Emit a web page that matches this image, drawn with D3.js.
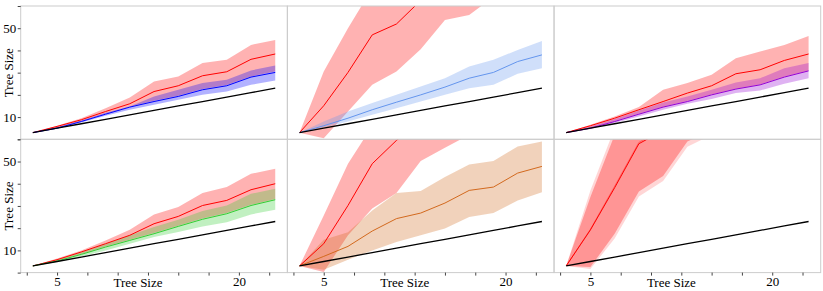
<!DOCTYPE html>
<html>
<head>
<meta charset="utf-8">
<script src="https://cdnjs.cloudflare.com/ajax/libs/d3/7.8.5/d3.min.js"></script>
<style>
body { margin: 0; background: #fff; }
svg text { font-family: "Liberation Serif", "DejaVu Serif", serif; }
</style>
</head>
<body>
<svg id="chart" width="823" height="291"></svg>
<script>
// tree sizes on the x axis (same for every panel)
var sizes = [3, 5, 7, 9, 11, 13, 15, 17, 19, 21, 23];
var identity = [3, 5, 7, 9, 11, 13, 15, 17, 19, 21, 23];

var xTicks = [2.5, 5, 7.5, 10, 12.5, 15, 17.5, 20, 22.5];
var xTickLabels = [5, 20];
var yTicks = [0, 10, 20, 30, 40, 50, 60];
var yTickLabels = [10, 50];

// panel 1 (top left) : red vs blue
var redMean1 = [3, 5.8, 8.8, 12.5, 16.0, 21.5, 24.1, 28.6, 30.4, 36.0, 38.4];
var redHi1   = [3, 6.1, 9.5, 14.0, 18.8, 26.0, 28.3, 34.3, 35.8, 42.5, 44.7];
var redLo1   = [3, 5.1, 8.1, 11.5, 14.6, 17.3, 19.6, 22.6, 24.4, 28.3, 30.5];
var blueMean1 = [3, 5.0, 8.0, 11.3, 14.5, 17.0, 19.3, 22.3, 24.1, 28.0, 30.1];
var blueHi1   = [3, 5.5, 8.5, 12.0, 14.8, 19.3, 22.3, 25.3, 26.8, 31.0, 33.2];
var blueLo1   = [3, 4.7, 7.6, 10.6, 13.3, 15.5, 17.8, 20.0, 21.5, 24.5, 26.5];

// panel 2 (top middle) : red vs cornflower
var redMean2 = [3, 15.1, 30.1, 47.0, 51.9, 62.5, 72, 80, 88, 95, 102];
var redHi2   = [3, 30.5, 50, 68, 78, 88, 98, 108, 118, 128, 138];
var redLo2   = [3, 0.5, 12.5, 24.5, 30.5, 40.5, 53.7, 56.0, 64, 70, 76];
var cornMean2 = [3, 6.1, 9.5, 13.3, 16.7, 20.0, 23.5, 27.5, 30.1, 35.0, 38.0];
var cornHi2   = [3, 8.0, 12.5, 16.3, 20.0, 23.8, 27.5, 32.8, 35.8, 40.2, 44.3];
var cornLo2   = [3, 5.3, 8.0, 11.0, 14.0, 17.0, 20.0, 23.0, 24.5, 29.5, 32.0];

// panel 3 (top right) : red vs violet
var redMean3 = [3, 6.1, 9.5, 13.3, 17.0, 20.8, 24.1, 29.5, 31.3, 35.5, 38.4];
var redHi3   = [3, 6.5, 10.3, 14.5, 22.3, 25.3, 29.0, 36.5, 39.5, 42.5, 46.5];
var redLo3   = [3, 5.1, 8.2, 11.5, 14.7, 17.2, 20.2, 22.8, 24.7, 28.2, 31.0];
var violetMean3 = [3, 5.0, 8.0, 11.3, 14.5, 17.0, 20.0, 22.6, 24.5, 28.0, 30.8];
var violetHi3   = [3, 5.8, 9.1, 13.0, 16.6, 19.3, 22.3, 25.6, 27.5, 32.0, 34.3];
var violetLo3   = [3, 4.6, 7.3, 10.3, 13.3, 16.0, 18.1, 20.8, 22.0, 25.0, 27.5];

// panel 4 (bottom left) : red vs green
var redMean4 = [3, 5.8, 9.3, 13.0, 16.8, 22.0, 25.3, 30.2, 32.5, 37.3, 40.0];
var redHi4   = [3, 6.3, 10.0, 14.5, 19.3, 26.2, 29.5, 35.8, 38.5, 44.5, 46.7];
var redLo4   = [3, 5.3, 8.4, 11.7, 14.8, 17.8, 21.1, 24.3, 26.8, 30.5, 33.1];
var greenMean4 = [3, 5.2, 8.2, 11.5, 14.5, 17.5, 20.8, 24.0, 26.5, 30.2, 32.8];
var greenHi4   = [3, 5.8, 9.3, 13.0, 16.8, 20.5, 23.8, 27.7, 30.2, 35.5, 37.7];
var greenLo4   = [3, 4.8, 7.3, 10.0, 13.0, 16.0, 18.3, 20.8, 22.7, 26.2, 28.3];

// panel 5 (bottom middle) : red vs orange
var redMean5 = [3, 13.0, 30.2, 49.0, 59.5, 68, 76, 84, 92, 100, 108];
var redHi5   = [3, 25.7, 49, 66, 80, 92, 104, 115, 125, 135, 145];
var redLo5   = [3, 0.3, 16.8, 28.8, 35.8, 50.2, 56.2, 62, 68, 74, 80];
var orangeMean5 = [3, 7.3, 11.8, 18.7, 24.3, 26.8, 31.3, 37.0, 38.5, 44.8, 47.8];
var orangeHi5   = [3, 14.8, 18.2, 28.0, 35.8, 36.7, 43.0, 48.7, 50.2, 56.8, 59.0];
var orangeLo5   = [3, 1.3, 5.8, 10.0, 13.8, 16.8, 19.8, 25.0, 26.8, 32.5, 36.2];

// panel 6 (bottom right) : red vs red
var redMean6 = [3, 19.2, 38.2, 58.0, 64, 71, 78, 85, 92, 99, 106];
var redHi6   = [3, 34, 62, 82, 97, 112, 127, 142, 157, 172, 187];
var redLo6   = [3, 2.5, 17.5, 36.5, 43.5, 59, 64, 68, 72, 76, 80];
var red2Mean6 = [3, 19.5, 38.9, 58.6, 65, 72, 79, 86, 93, 100, 107];
var red2Hi6   = [3, 37, 65, 85, 100, 115, 130, 145, 160, 175, 190];
var red2Lo6   = [3, 1.6, 15.4, 34.2, 41.2, 56.6, 62, 66, 70, 74, 78];

var panels = [
    {row: 0, col: 0, series: [{mean: redMean1, lo: redLo1, hi: redHi1, color: "red", alpha: 0.3}, {mean: blueMean1, lo: blueLo1, hi: blueHi1, color: "blue", alpha: 0.3}]},
    {row: 0, col: 1, series: [{mean: redMean2, lo: redLo2, hi: redHi2, color: "red", alpha: 0.3}, {mean: cornMean2, lo: cornLo2, hi: cornHi2, color: "cornflowerblue", alpha: 0.3}]},
    {row: 0, col: 2, series: [{mean: redMean3, lo: redLo3, hi: redHi3, color: "red", alpha: 0.3}, {mean: violetMean3, lo: violetLo3, hi: violetHi3, color: "darkviolet", alpha: 0.3}]},
    {row: 1, col: 0, series: [{mean: redMean4, lo: redLo4, hi: redHi4, color: "red", alpha: 0.3}, {mean: greenMean4, lo: greenLo4, hi: greenHi4, color: "limegreen", alpha: 0.3}]},
    {row: 1, col: 1, series: [{mean: redMean5, lo: redLo5, hi: redHi5, color: "red", alpha: 0.3}, {mean: orangeMean5, lo: orangeLo5, hi: orangeHi5, color: "chocolate", alpha: 0.3}]},
    {row: 1, col: 2, series: [{mean: redMean6, lo: redLo6, hi: redHi6, color: "red", alpha: 0.3}, {mean: red2Mean6, lo: red2Lo6, hi: red2Hi6, color: "red", alpha: 0.16}]}
];

var margin = {left: 20.7, top: 6};
var panelW = 266.67, panelH = 133.3;

var svg = d3.select("#chart");

panels.forEach(drawPanel);

function drawPanel(p)
{
    var x0 = margin.left + p.col * panelW,
        y0 = margin.top + p.row * panelH;
    var x = d3.scaleLinear().domain([2, 24]).range([x0, x0 + panelW]),
        y = d3.scaleLinear().domain([0, 60]).range([y0 + panelH, y0]);

    var clipId = "clip" + p.row + "" + p.col;
    svg.append("clipPath").attr("id", clipId)
        .append("rect")
        .attr("x", x0).attr("y", y0)
        .attr("width", panelW).attr("height", panelH);

    var g = svg.append("g").attr("clip-path", "url(#" + clipId + ")");

    p.series.forEach(function (s) {
        var band = d3.area()
            .x(function (d, i) { return x(sizes[i]); })
            .y0(function (d, i) { return y(s.lo[i]); })
            .y1(function (d, i) { return y(s.hi[i]); });
        g.append("path")
            .datum(s.mean)
            .attr("d", band)
            .attr("fill", s.color)
            .attr("fill-opacity", s.alpha);
    });

    p.series.forEach(function (s) {
        var line = d3.line()
            .x(function (d, i) { return x(sizes[i]); })
            .y(function (d) { return y(d); });
        g.append("path")
            .datum(s.mean)
            .attr("d", line)
            .attr("fill", "none")
            .attr("stroke", s.color)
            .attr("stroke-opacity", s.alpha < 0.3 ? 0.35 : 1)
            .attr("stroke-width", 1);
    });

    // y = x reference
    g.append("path")
        .datum(identity)
        .attr("d", d3.line().x(function (d, i) { return x(sizes[i]); }).y(function (d) { return y(d); }))
        .attr("fill", "none")
        .attr("stroke", "black")
        .attr("stroke-width", 1.3);

    svg.append("rect")
        .attr("x", x0).attr("y", y0)
        .attr("width", panelW).attr("height", panelH)
        .attr("fill", "none")
        .attr("stroke", "#cccccc")
        .attr("stroke-width", 1);

    if (p.col == 0) {
        var ay = svg.append("g")
            .attr("transform", "translate(" + x0 + ",0)")
            .call(d3.axisLeft(y).tickValues(yTicks).tickSize(3).tickPadding(1.5)
                .tickFormat(function (d) { return yTickLabels.indexOf(d) >= 0 ? d : ""; }));
        styleAxis(ay);

        svg.append("text")
            .attr("transform", "translate(13.3," + (y0 + panelH / 2) + ") rotate(-90)")
            .attr("text-anchor", "middle")
            .attr("font-size", "13px")
            .attr("fill", "black")
            .text("Tree Size");
    }

    if (p.row == 1) {
        var ax = svg.append("g")
            .attr("transform", "translate(0," + (y0 + panelH) + ")")
            .call(d3.axisBottom(x).tickValues(xTicks).tickSize(3).tickPadding(1.5)
                .tickFormat(function (d) { return xTickLabels.indexOf(d) >= 0 ? d : ""; }));
        styleAxis(ax);

        svg.append("text")
            .attr("x", x0 + panelW / 2 - 16)
            .attr("y", 286.5)
            .attr("text-anchor", "middle")
            .attr("font-size", "13px")
            .attr("fill", "black")
            .text("Tree Size");
    }
}

function styleAxis(a)
{
    a.select(".domain").remove();
    a.selectAll(".tick line").attr("stroke", "#444");
    a.selectAll(".tick text")
        .attr("font-size", "13px")
        .attr("font-family", "Liberation Serif, DejaVu Serif, serif")
        .attr("fill", "black");
}
</script>
</body>
</html>
